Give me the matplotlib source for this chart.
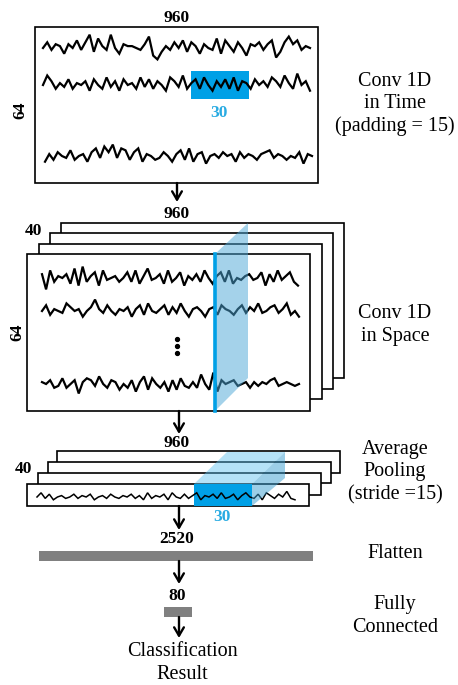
import matplotlib
matplotlib.use("Agg")
import matplotlib.pyplot as plt
from matplotlib.patches import Rectangle, Polygon
import numpy as np

# ---- data: labels and sizes ----
time_len = "960"
channels = "64"
filters = "40"
kernel_len = "30"
flat_len = "2520"
fc_len = "80"
stage_labels = [
    ("Conv 1D\nin Time\n(padding = 15)", 104),
    ("Conv 1D\nin Space", 325),
    ("Average\nPooling\n(stride =15)", 472),
    ("Flatten", 554),
    ("Fully\nConnected", 616),
]
result_label = "Classification\nResult"

# ---- data: hand-read EEG-like traces (pixel offsets) ----
sig_a = [0,3,-1,2,1,-3,2,0,4,-1,3,7,-2,5,1,-1,7,0,-3,2,1,1,0,-1,2,6,-4,-6,-2,1,-1,3,0,4,-2,3,1,-3,2,0,-1,5,-3,4,1,-2,3,0,-4,2,1,3,-1,2,4,-5,-2,3,6,2,4,-1,1,0]
sig_b = [0,5,2,-2,1,-1,3,-2,1,0,2,-3,3,0,-2,4,-1,2,-3,3,0,1,-2,4,-1,3,-2,2,0,-3,4,2,-1,5,-2,1,3,-2,4,0,-3,2,-1,3,-2,4,-3,2,1,-2,3,0,2,-1,4,2,-1,5,1,-2,6,0,2,-3]
sig_c = [-3,1,-2,2,0,-1,3,-2,0,1,-3,2,4,-1,5,2,6,-1,4,3,-2,2,4,-3,1,0,-2,-1,2,0,-3,1,3,-2,4,-3,1,2,-4,0,1,-1,2,0,1,-3,2,-1,1,0,-2,1,2,3,-1,1,0,-2,0,-1,2,-4,1,0]
sig_d = [2,-6,4,-2,1,0,2,-3,5,-4,6,-2,1,3,-4,4,-1,0,1,-2,0,3,-2,4,-3,1,5,-1,0,2,-3,4,-2,0,3,-4,1,-1,2,-2,4,0,-3,1,3,-2,4,-3,0,-1,1,2,-1,0,3,-4,2,-2,4,-1,1,3,-2,-4]
sig_e = [0,3,-2,1,0,-1,4,2,0,1,-3,0,2,6,1,-1,3,0,-2,1,0,2,-3,1,3,-2,4,0,-1,1,3,-2,2,-1,4,0,-3,1,2,0,-3,1,2,-2,3,1,0,-2,1,3,-1,2,0,4,-1,0,2,3,-1,1,4,-2,0,-3]
sig_f = [1,0,2,-2,-1,3,-2,0,2,-5,1,3,2,-1,4,0,-2,2,1,-3,0,-2,2,-4,1,4,-3,3,0,-2,1,-4,2,-3,3,-1,-2,1,-2,5,0,-3,6,-4,2,0,1,2,-1,0,1,-2,1,-1,1,0,2,3,-1,0,1,0,-1,0]
sig_g = [0,3,-1,2,-2,0,1,-1,0,2,-1,1,0,2,-2,0,1,-1,2,0,-1,1,0,2,-1,1,-2,3,-1,1,0,2,-2,3,0,-1,2,-1,1,3,-2,1,0,2,-1,3,-1,0,2,-2,1,3,0,-1,2,-2,3,1,-1,2,0,4,-1,-2]

W, H = 458, 685
fig = plt.figure(figsize=(W / 100, H / 100), dpi=100)
ax = fig.add_axes([0, 0, 1, 1])
ax.set_xlim(0, W)
ax.set_ylim(H, 0)
ax.axis("off")

SERIF = ["Liberation Serif", "DejaVu Serif"]
BLUE = "#00a0e6"
BLUE_TXT = "#29abe2"
GRAY = "#808080"


def trace(sig, x0, x1, yc, amp=1.9, lw=1.6):
    xs = np.linspace(x0, x1, len(sig))
    ys = yc - np.array(sig, dtype=float) * amp
    ax.plot(xs, ys, color="black", lw=lw, solid_joinstyle="miter", zorder=5)


def box(x0, y0, x1, y1, z, lw=1.2):
    ax.add_patch(Rectangle((x0, y0), x1 - x0, y1 - y0, facecolor="white",
                           edgecolor="black", lw=lw, zorder=z))


def num(x, y, s, color="black"):
    ax.text(x, y, s, ha="center", va="center", fontsize=12.5, fontweight="bold",
            family=SERIF, color=color, zorder=10)


def arrow(x, y0, y1):
    ax.annotate("", xy=(x, y1), xytext=(x, y0),
                arrowprops=dict(arrowstyle="->,head_length=0.6,head_width=0.35",
                                lw=1.7, color="black", shrinkA=0, shrinkB=0),
                zorder=12)


# ---- block 1: Conv in time ----
box(35, 27, 318, 183, 1)
trace(sig_a, 43, 310, 48)
trace(sig_b, 43, 310, 85)
trace(sig_c, 45, 312, 156)
ax.add_patch(Rectangle((191, 71), 58, 28, facecolor=BLUE, edgecolor="none", zorder=4))
num(177, 18, time_len)
ax.text(20, 110, channels, ha="center", va="center", rotation=90, fontsize=12.5,
        fontweight="bold", family=SERIF, zorder=10)
num(219, 113, kernel_len, BLUE_TXT)
arrow(177, 183, 202)

# ---- block 2: Conv in space ----
offs = [(61, 223, 344, 378), (50, 233, 333, 389), (39, 244, 322, 399), (27, 254, 310, 411)]
for i, (a, b, c, d) in enumerate(offs):
    box(a, b, c, d, 1 + i)
trace(sig_d, 42, 298, 278)
trace(sig_e, 42, 299, 311)
trace(sig_f, 42, 299, 384)
for yy in (339, 346, 353):
    ax.plot([177], [yy], "o", color="black", ms=2.8, zorder=6)
ax.add_patch(Polygon([(215, 254), (248, 223), (248, 378), (215, 411)], closed=True,
                     facecolor="#4aa6d6", alpha=0.5, edgecolor="none", zorder=7))
ax.plot([215, 215], [254, 411], color=BLUE, lw=2.6, zorder=8)
num(177, 214, time_len)
num(33, 231, filters)
ax.text(17, 332, channels, ha="center", va="center", rotation=90, fontsize=12.5,
        fontweight="bold", family=SERIF, zorder=10)
arrow(179, 411, 434)

# ---- block 3: average pooling ----
offs3 = [(57, 451, 340, 473), (48, 462, 331, 483), (38, 473, 321, 495), (27, 484, 309, 506)]
for i, (a, b, c, d) in enumerate(offs3):
    box(a, b, c, d, 1 + i)
ax.add_patch(Rectangle((194, 484), 58, 22, facecolor=BLUE, edgecolor="none", zorder=5))
trace(sig_g, 37, 295, 497, amp=1.4, lw=1.1)
ax.add_patch(Polygon([(194, 484), (252, 484), (285, 452), (227, 452)], closed=True,
                     facecolor="#5cc0ee", alpha=0.45, edgecolor="none", zorder=7))
ax.add_patch(Polygon([(252, 484), (285, 452), (285, 478), (252, 506)], closed=True,
                     facecolor="#3a9ed0", alpha=0.5, edgecolor="none", zorder=7))
num(177, 443, time_len)
num(23, 469, filters)
num(222, 517, kernel_len, BLUE_TXT)
arrow(179, 506, 530)

# ---- flatten & FC ----
num(177, 539, flat_len)
ax.add_patch(Rectangle((39, 551), 274, 10, facecolor=GRAY, edgecolor="none", zorder=3))
arrow(179, 561, 584)
num(177, 596, fc_len)
ax.add_patch(Rectangle((164, 607), 28, 10, facecolor=GRAY, edgecolor="none", zorder=3))
arrow(179, 617, 638)
ax.text(182, 663, result_label, ha="center", va="center", fontsize=14.5,
        family=SERIF, linespacing=1.25, zorder=10)

# ---- right-hand stage labels ----
for lab, yy in stage_labels:
    ax.text(395, yy, lab, ha="center", va="center", fontsize=14.5, family=SERIF,
            linespacing=1.25, zorder=10)

fig.savefig("out.png", dpi=100)
